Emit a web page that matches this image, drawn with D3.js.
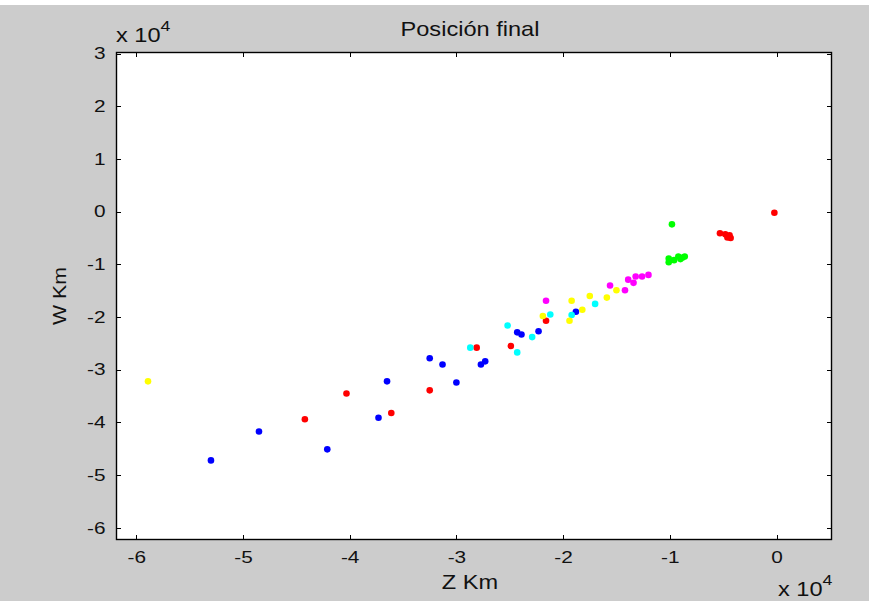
<!DOCTYPE html>
<html lang="es">
<head>
    <meta charset="UTF-8">
    <title>Posición final</title>
    <script src="https://d3js.org/d3.v7.min.js"></script>
    <style>
        body { margin: 0; background: #fff; }
        text { font-family: Arial, "Liberation Sans", sans-serif; fill: #111; }
        .axis path { display: none; }
        .axis line { stroke: #000; shape-rendering: crispEdges; }
        .axis text { font-size: 16px; }
    </style>
</head>
<body>
    <svg id="chart" width="869" height="601"></svg>

    <script>
        // values in units of 10^4 km
        const xTicks = [-6, -5, -4, -3, -2, -1, 0];
        const yTicks = [-6, -5, -4, -3, -2, -1, 0, 1, 2, 3];

        const blueZ  = [-5.30, -4.85, -4.21, -3.73, -3.65, -3.25, -3.13, -3.00, -2.77, -2.73, -2.43, -2.39, -2.23, -1.88];
        const blueW  = [-4.72, -4.17, -4.51, -3.91, -3.22, -2.78, -2.90, -3.24, -2.90, -2.84, -2.29, -2.33, -2.27, -1.90];
        const redZ   = [-4.42, -4.03, -3.61, -3.25, -2.81, -2.49, -2.16, -0.02, -0.53, -0.48, -0.44, -0.43, -0.46];
        const redW   = [-3.94, -3.45, -3.82, -3.39, -2.58, -2.55, -2.07, -0.02, -0.41, -0.43, -0.45, -0.50, -0.49];
        const cyanZ  = [-1.70, -1.92, -2.12, -2.29, -2.52, -2.43, -2.87];
        const cyanW  = [-1.75, -1.96, -1.95, -2.38, -2.16, -2.67, -2.58];
        const yellowZ = [-5.89, -2.19, -1.92, -1.75, -1.59, -1.50, -1.82, -1.94];
        const yellowW = [-3.22, -1.98, -1.69, -1.60, -1.63, -1.49, -1.86, -2.07];
        const magentaZ = [-2.16, -1.56, -1.42, -1.39, -1.34, -1.32, -1.26, -1.20];
        const magentaW = [-1.69, -1.40, -1.49, -1.29, -1.35, -1.23, -1.23, -1.20];
        const greenZ = [-0.98, -1.01, -1.01, -0.96, -0.92, -0.90, -0.86, -0.88];
        const greenW = [-0.24, -0.89, -0.96, -0.92, -0.85, -0.90, -0.85, -0.87];

        const series = [
            { color: "#0000ff", z: blueZ, w: blueW },
            { color: "#ff0000", z: redZ, w: redW },
            { color: "#00ffff", z: cyanZ, w: cyanW },
            { color: "#ffff00", z: yellowZ, w: yellowW },
            { color: "#ff00ff", z: magentaZ, w: magentaW },
            { color: "#00ff00", z: greenZ, w: greenW }
        ];

        const axLeft = 116, axRight = 832, axTop = 52, axBottom = 540;
        const stretch = 1.3;   // text in the original is rendered wide

        const svg = d3.select("#chart");

        // figure background
        svg.append("rect")
            .attr("x", 0).attr("y", 5)
            .attr("width", 869).attr("height", 596)
            .attr("fill", "#cccccc");

        svg.append("rect")
            .attr("x", axLeft).attr("y", axTop)
            .attr("width", axRight - axLeft).attr("height", axBottom - axTop)
            .attr("fill", "#fff");

        const x = d3.scaleLinear().domain([-6.19, 0.52]).range([axLeft, axRight]);
        const y = d3.scaleLinear().domain([-6.23, 3.03]).range([axBottom, axTop]);

        const fmt = d => String(d);

        svg.append("g").attr("class", "axis")
            .attr("transform", `translate(0,${axBottom})`)
            .call(d3.axisBottom(x).tickValues(xTicks).tickFormat(fmt).tickSize(-5).tickPadding(12))
            .selectAll("text").attr("transform", `scale(${stretch},1)`);
        svg.append("g").attr("class", "axis")
            .attr("transform", `translate(0,${axTop})`)
            .call(d3.axisTop(x).tickValues(xTicks).tickFormat("").tickSize(-5));
        svg.append("g").attr("class", "axis")
            .attr("transform", `translate(${axLeft},0)`)
            .call(d3.axisLeft(y).tickValues(yTicks).tickFormat(fmt).tickSize(-5).tickPadding(8))
            .selectAll("text").attr("transform", `scale(${stretch},1)`);
        svg.append("g").attr("class", "axis")
            .attr("transform", `translate(${axRight},0)`)
            .call(d3.axisRight(y).tickValues(yTicks).tickFormat("").tickSize(-5));

        // box
        svg.append("rect")
            .attr("x", axLeft + 0.5).attr("y", axTop + 0.5)
            .attr("width", axRight - axLeft - 1).attr("height", axBottom - axTop - 1)
            .attr("fill", "none").attr("stroke", "#000").attr("stroke-width", 1.4);

        // points
        series.forEach(s => {
            svg.append("g").selectAll("circle")
                .data(s.z.map((z, i) => [z, s.w[i]]))
                .enter().append("circle")
                .attr("cx", d => x(d[0]))
                .attr("cy", d => y(d[1]))
                .attr("r", 3.3)
                .attr("fill", s.color);
        });

        // texts
        function label(tx, ty, str, rot, size) {
            const g = svg.append("g")
                .attr("transform", `translate(${tx},${ty}) rotate(${rot || 0}) scale(1.18,1)`);
            return g.append("text").style("font-size", (size || 20) + "px").text(str);
        }

        label(470, 36, "Posición final").attr("text-anchor", "middle");
        label(470, 589, "Z Km").attr("text-anchor", "middle");
        label(66, (axTop + axBottom) / 2, "W Km", -90, 18).attr("text-anchor", "middle");

        function exponent(tx, ty) {
            const t = label(tx, ty, "x 10");
            t.append("tspan").attr("dy", -11).style("font-size", "15px").text("4");
        }
        exponent(116, 42);
        exponent(778, 596);
    </script>
</body>
</html>
